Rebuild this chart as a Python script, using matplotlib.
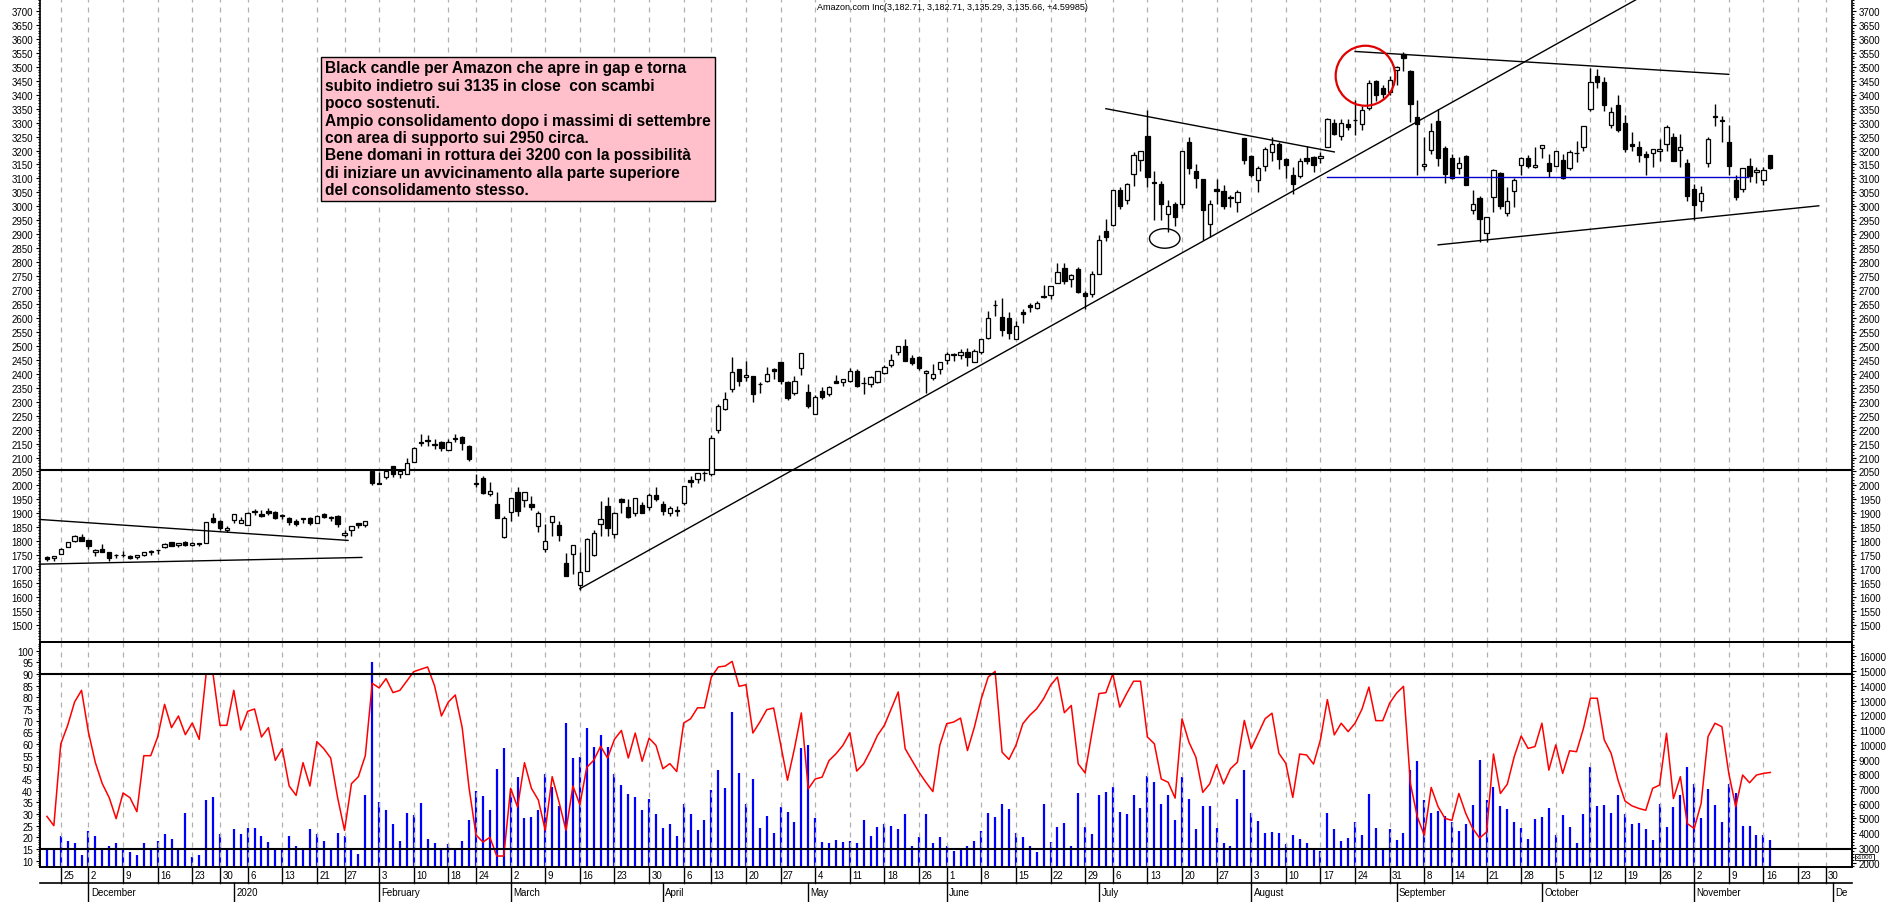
import numpy as np
import pandas as pd
import matplotlib
matplotlib.use("Agg")
import matplotlib.pyplot as plt
from matplotlib.patches import Ellipse
from matplotlib import transforms

plt.rcParams["font.family"] = "Liberation Sans"

# ---------------- data ----------------
holidays = ["2019-11-28", "2019-12-25", "2020-01-01", "2020-01-20", "2020-02-17",
            "2020-04-10", "2020-05-25", "2020-07-03", "2020-09-07", "2020-11-26"]
all_days = pd.bdate_range("2019-11-21", "2020-12-04", freq="C", holidays=holidays)

opens = [1743,1739,1753,1780,1801,1817,
 1804,1760,1774,1763,1751,1750,1748,1742,1750,1765,1768,1778,1796,1786,1799,1788,1793,1794,1882,1874,1842,
 1875,1864,1860,1904,1898,1910,1905,1891,1885,1873,1883,1885,1865,1896,1885,1891,1821,1841,1865,1858,2051,
 2010,2029,2071,2041,2040,2085,2155,2163,2145,2155,2126,2168,2173,2142,2004,2026,1970,1935,1814,
 1906,1975,1947,1934,1855,1773,1870,1857,1721,1755,1642,1692,1750,1861,1926,1827,1951,1921,1902,1930,1922,1965,
 1933,1901,1912,1937,2018,2022,2045,2040,2200,2275,2347,2417,2389,2391,2363,2375,2418,2443,2372,2331,2420,
 2336,2257,2340,2329,2375,2370,2375,2411,2367,2362,2369,2404,2430,2477,2500,2455,2459,2404,2384,2416,
 2448,2467,2468,2478,2444,2477,2530,2646,2604,2601,2526,2620,2647,2635,2678,2684,2727,2780,2739,2775,2690,2685,
 2758,2912,2934,3058,3023,3115,3166,3252,3089,3080,2972,3010,3010,3232,3125,3098,2935,3063,3055,3030,3015,3244,
 3181,3095,3144,3195,3225,3170,3114,3108,3172,3178,3173,3213,3300,3252,3295,3310,3294,3351,3450,3423,3409,
 3490,3547,3485,3319,3144,3202,3307,3208,3172,3137,3180,2986,3031,2906,3033,3120,2977,3055,3148,3175,3141,
 3208,3154,3145,3167,3136,3190,3211,3349,3468,3447,3292,3363,3299,3222,3212,3189,3191,3198,3224,3249,3202,3157,
 3061,3018,3157,3319,3305,3232,3095,3062,3144,3122,3094,3183]

highs = [1746,1746,1777,1797,1824,1825,
 1806,1772,1789,1763,1754,1766,1750,1750,1763,1768,1770,1792,1799,1793,1802,1796,1795,1870,1901,1875,1853,
 1899,1886,1904,1914,1911,1918,1907,1898,1887,1878,1885,1886,1895,1903,1890,1895,1841,1850,1867,1872,2056,
 2049,2059,2071,2056,2098,2136,2185,2180,2165,2160,2167,2186,2176,2145,2042,2034,2014,1975,1889,
 1954,1996,1976,1961,1910,1862,1892,1871,1757,1786,1760,1811,1841,1945,1958,1906,1955,1950,1956,1940,1974,1993,
 1944,1927,1926,1998,2035,2044,2053,2181,2292,2334,2462,2419,2445,2392,2369,2425,2420,2444,2374,2391,2475,
 2363,2324,2351,2357,2396,2383,2420,2419,2388,2392,2410,2433,2470,2500,2525,2469,2463,2413,2436,2443,
 2477,2473,2488,2492,2489,2526,2626,2664,2671,2622,2590,2631,2655,2660,2718,2715,2798,2796,2756,2782,2696,2769,
 2896,2955,3060,3070,3083,3194,3200,3344,3127,3092,3024,3016,3200,3247,3150,3099,3023,3099,3078,3039,3058,3246,
 3185,3144,3214,3247,3231,3173,3140,3175,3217,3179,3194,3315,3312,3312,3314,3380,3358,3451,3453,3434,3468,
 3502,3553,3488,3381,3250,3300,3350,3217,3187,3176,3185,3058,3038,2962,3133,3124,3070,3101,3176,3185,3213,
 3221,3188,3199,3189,3201,3234,3288,3497,3493,3465,3355,3400,3329,3266,3235,3199,3205,3243,3291,3264,3258,3168,
 3079,3074,3247,3366,3322,3290,3114,3139,3175,3141,3142,3183]

lows = [1731,1731,1753,1778,1798,1800,
 1772,1748,1760,1731,1740,1743,1735,1738,1746,1750,1756,1777,1783,1779,1782,1784,1784,1793,1866,1840,1833,
 1864,1864,1860,1893,1886,1895,1880,1880,1858,1856,1867,1857,1865,1884,1873,1850,1815,1818,1848,1851,2002,
 2004,2024,2032,2025,2040,2084,2140,2142,2130,2125,2126,2157,2127,2088,1995,1970,1961,1882,1812,
 1871,1891,1923,1911,1834,1762,1819,1800,1675,1681,1626,1692,1746,1820,1820,1812,1901,1885,1889,1900,1913,1944,
 1893,1891,1892,1931,1996,2009,2017,2035,2187,2271,2335,2358,2375,2300,2333,2370,2380,2364,2307,2325,2396,
 2276,2256,2308,2320,2367,2356,2372,2354,2328,2353,2366,2398,2426,2467,2446,2430,2415,2330,2378,2399,
 2434,2446,2454,2428,2442,2472,2525,2608,2536,2524,2523,2583,2621,2631,2671,2669,2727,2721,2712,2688,2631,2675,
 2756,2876,2931,2989,3009,3072,3128,3068,2951,2950,2909,2931,2995,3115,3065,2881,2889,3007,2992,2996,2980,3151,
 3104,3051,3127,3162,3133,3102,3045,3101,3152,3124,3155,3213,3256,3238,3275,3257,3275,3345,3378,3387,3398,
 3436,3486,3303,3112,3131,3186,3145,3085,3097,3117,3076,2972,2871,2871,2981,2992,2965,2999,3114,3136,3136,
 3172,3106,3145,3097,3131,3160,3199,3343,3425,3340,3282,3268,3193,3198,3160,3114,3140,3164,3199,3162,3140,3019,
 2951,2984,3141,3288,3231,3112,3024,3050,3086,3085,3077,3135]

closes = [1735,1746,1774,1797,1818,1801,
 1782,1770,1761,1740,1752,1750,1739,1749,1760,1761,1769,1791,1784,1792,1787,1793,1789,1869,1870,1847,1848,
 1898,1875,1903,1907,1892,1901,1883,1891,1869,1862,1878,1865,1892,1888,1885,1862,1828,1853,1858,1871,2009,
 2004,2050,2040,2050,2079,2134,2151,2160,2150,2135,2156,2170,2153,2096,2009,1973,1980,1884,1884,
 1954,1909,1976,1924,1901,1801,1892,1821,1677,1785,1689,1808,1830,1881,1846,1903,1940,1886,1956,1900,1964,1950,
 1908,1919,1907,1998,2012,2043,2043,2169,2283,2308,2408,2375,2394,2328,2364,2400,2410,2376,2314,2373,2474,
 2286,2316,2318,2351,2368,2380,2409,2357,2368,2389,2410,2426,2449,2498,2447,2437,2422,2410,2401,2442,
 2471,2472,2478,2461,2483,2524,2601,2647,2558,2545,2573,2615,2641,2654,2675,2714,2764,2734,2755,2693,2680,2759,
 2879,2890,3057,3000,3081,3183,3200,3104,3084,3009,3000,2962,3197,3138,3100,2987,3009,3055,3000,3034,3052,3165,
 3112,3139,3205,3225,3168,3148,3081,3162,3161,3148,3182,3313,3261,3297,3285,3308,3347,3442,3400,3402,3451,
 3499,3531,3368,3295,3150,3269,3175,3116,3103,3156,3078,3009,2955,2961,3129,3000,3020,3095,3174,3145,3149,
 3221,3125,3199,3100,3196,3191,3287,3444,3444,3364,3339,3273,3207,3217,3185,3176,3204,3207,3286,3163,3211,3036,
 3005,3048,3241,3322,3311,3144,3035,3137,3110,3129,3131,3136]

# volume in thousands of shares
volumes = [2920,2840,3800,3480,3320,2500,4120,3800,3000,3160,3320,2840,2760,2500,3320,3000,3480,3960,3640,3000,
 5400,2360,2500,6280,6440,3960,2840,4280,3960,4360,4360,3800,3400,3000,3000,3800,3160,3000,4280,3960,
 3480,2840,4040,3800,3000,2600,6600,15640,6120,5560,4600,3480,5400,5240,6040,3640,3320,2840,3240,2840,
 3480,4920,6840,6520,5560,8360,9800,7000,7800,5000,5080,5560,8040,7160,5880,11480,9080,9160,11160,9880,
 10680,9880,8040,
 7280,6660,6440,5560,6300,5290,4330,4600,3800,5980,5290,4190,4880,6940,8270,7080,12210,8080,5980,7650,
 4370,5200,4030,5790,5470,4790,9760,9960,5060,3410,3340,3530,3410,3500,3320,4920,3800,4440,4600,4490,
 4260,5290,3110,3760,5290,3320,3760,3110,2770,2860,3110,3460,4150,5340,5130,5980,5610,4030,3730,3110,
 2730,5980,3410,4440,4720,3140,6710,4440,3960,6570,6780,7120,5470,5290,6570,5700,7880,7490,5980,6570,
 4920,7810,6300,4310,5820,5820,4370,3340,3110,6300,8270,5340,4830,
 4010,4100,4010,3250,3870,3600,3320,2910,2790,5390,4280,3480,3690,4790,3870,6650,4380,3000,4280,3550,
 4010,8300,8920,6230,5390,5480,5200,4740,4170,4650,5940,8990,6230,7110,5820,5660,4740,4380,3600,4970,
 5090,5730,3870,5270,4420,3320,5320,8480,5820,5940,5360,6580,5320,4630,4700,4280,3550,6000,4450,5750,
 6620,8500,7330,5020,6990,5890,4790,7330,6720,4510,4510,3890,3890,3550]

oscillator = [29,25,60,68,78,83,65,52,43,37,28,39,37,31,55,55,63,77,67,72,64,69,62,90,90,68,68,83,66,74,
 75,63,67,53,58,42,38,52,42,61,58,54,37,23,43,46,55,86,84,88,82,83,87,91,92,93,85,72,78,81,
 67,41,21,18,20,12,12,41,33,52,41,36,23,46,35,23,42,34,50,53,59,54,62,
 65.8,54,64.7,52.6,62.5,59.4,49.4,51.6,48.2,69,70.8,75.5,75.5,88.7,93,93.4,95.4,84.7,85.4,64.7,
 69.4,74.7,75.4,60,44.5,58,73.3,40.8,45,45.8,52.9,55.8,59.4,64.8,48.4,51.5,57.2,63.7,68,75.1,
 82.3,58,52.9,47.9,43.6,39.6,59.4,68.7,69.4,71.1,57.2,67.2,79.4,88.7,91.1,56.5,53.4,59.4,68.7,72.3,
 75.1,79.4,85.1,88.7,73.4,76.5,51.5,47.6,65.1,81.6,82,90.1,75.8,81.6,86.9,86.9,63,60.1,45,43.6,
 36.8,70.8,60.8,54.4,39.3,42.9,51.1,42.9,49.4,52.2,70.1,58,64.4,
 70.8,73.2,56,51.7,37.1,55.7,55.3,51.4,61.8,79,63.9,68.9,65.3,68.9,74.9,84.4,70,70,77.5,81.8,
 84.7,43,28.8,20.9,41.4,33.1,28.1,27.3,38.8,30.2,23.8,19.7,22.3,55.7,38.8,42.8,54.6,63.4,58.1,58.9,
 68.9,48.8,59.6,47.4,57.1,56.7,66.7,79.6,79.6,61.8,56,44.5,35.6,33.5,32.4,31.6,41,42.4,64.6,36.6,
 46,25.9,23.8,34.5,63.2,68.9,67.4,47.4,33.1,46.7,43.4,46.7,47.4,47.8]

title_text = "Amazon.com Inc(3,182.71, 3,182.71, 3,135.29, 3,135.66, +4.59985)"
note_text = ("Black candle per Amazon che apre in gap e torna\n"
             "subito indietro sui 3135 in close  con scambi\n"
             "poco sostenuti.\n"
             "Ampio consolidamento dopo i massimi di settembre\n"
             "con area di supporto sui 2950 circa.\n"
             "Bene domani in rottura dei 3200 con la possibilità\n"
             "di iniziare un avvicinamento alla parte superiore\n"
             "del consolidamento stesso.")
month_names = {1: "2020", 2: "February", 3: "March", 4: "April", 5: "May", 6: "June", 7: "July",
               8: "August", 9: "September", 10: "October", 11: "November", 12: "December"}

# ---------------- figure ----------------
n = len(closes)
idx = np.arange(n)
W, H = 1890, 903
fig = plt.figure(figsize=(W / 100, H / 100), dpi=100)
fig.patch.set_facecolor("white")
L, R = 40, 1852
ax = fig.add_axes([L / W, (H - 643) / H, (R - L) / W, 643 / H])
ax2 = fig.add_axes([L / W, (H - 868) / H, (R - L) / W, 225 / H])
ax2r = ax2.twinx()
XMIN, XMAX = -1.0, 260.8
for a in (ax, ax2, ax2r):
    a.set_xlim(XMIN, XMAX)

days = all_days
week_first = [i for i in range(1, len(days)) if days[i].isocalendar()[1] != days[i - 1].isocalendar()[1]]
week_first = [i for i in week_first if days[i] <= pd.Timestamp("2020-12-01")]
for a in (ax, ax2):
    for i in week_first:
        a.axvline(i, color="#b0b0b0", ls=(0, (4, 4)), lw=0.9, zorder=0)

# candles
o = np.array(opens, float); h = np.array(highs, float); lo = np.array(lows, float); c = np.array(closes, float)
ax.vlines(idx, lo, h, color="black", lw=1, zorder=2)
up = c >= o
body = np.maximum(np.abs(c - o), 1.5)
ax.bar(idx[up], body[up], bottom=np.minimum(o, c)[up], width=0.62, color="white", edgecolor="black", lw=0.9, zorder=3)
ax.bar(idx[~up], body[~up], bottom=np.minimum(o, c)[~up], width=0.62, color="black", edgecolor="black", lw=0.9, zorder=3)

ax.set_ylim(1439, 3743)
ax.axhline(2055, color="black", lw=1.5, zorder=1)

def seg(a_, x0, y0, x1, y1, color="black", lw=1.0):
    a_.plot([x0, x1], [y0, y1], color=color, lw=lw, zorder=4)

seg(ax, -1, 1878, 43.5, 1803)
seg(ax, -1, 1718, 45.5, 1742)
seg(ax, 77, 1630, 231, 3760)
seg(ax, 153, 3350, 186, 3195)
seg(ax, 189, 3555, 243, 3473)
seg(ax, 201, 2862, 256, 3002)
seg(ax, 185, 3105, 245.8, 3105, color="#0000cc")
ax.add_patch(Ellipse((161.5, 2885), 4.4, 70, fill=False, ec="black", lw=1, zorder=5))
ax.add_patch(Ellipse((190.5, 3468), 8.6, 215, fill=False, ec="#e00000", lw=1.6, zorder=5))

ax.text(0.172, 0.932, note_text, transform=fig.transFigure, fontsize=11.2, fontweight="bold",
        va="top", ha="left", linespacing=1.2, color="black",
        bbox=dict(boxstyle="square,pad=0.25", fc="#ffc0cb", ec="black", lw=1))
fig.text(952 / W, 1 - 7 / H, title_text, fontsize=6.5, ha="center", va="center")

# lower panel
ax2r.vlines(idx[:len(volumes)], 0, volumes, color="#0000ff", lw=1.6)
ax2r.set_ylim(1710, 16970)
ax2.plot(np.arange(len(oscillator)), oscillator, color="#ff0000", lw=1.1, zorder=5)
ax2.set_ylim(7.3, 103.7)
ax2.axhline(90, color="black", lw=1.5, zorder=6)
ax2.axhline(15, color="black", lw=1.5, zorder=6)
ax2.set_zorder(ax2r.get_zorder() + 1)
ax2.patch.set_visible(False)

tick_kw = dict(labelsize=7, length=3, width=0.8, pad=2)
ax.set_yticks(np.arange(1500, 3701, 50))
ax.set_yticks(np.arange(1450, 3741, 10), minor=True)
ax.tick_params(axis="y", which="both", left=True, right=True, labelleft=True, labelright=True, **tick_kw)
ax.tick_params(axis="y", which="minor", length=1.5)
ax.set_xticks([])
ax2.set_yticks(np.arange(10, 101, 5))
ax2.set_yticks(np.arange(8, 104, 1), minor=True)
ax2.tick_params(axis="y", which="both", **tick_kw)
ax2.tick_params(axis="y", which="minor", length=1.5)
ax2.set_xticks([])
ax2r.set_yticks(np.arange(2000, 16001, 1000))
ax2r.set_yticks(np.arange(1800, 16901, 200), minor=True)
ax2r.yaxis.set_major_formatter(matplotlib.ticker.FuncFormatter(lambda v, p: f"{int(v)}"))
ax2r.tick_params(axis="y", which="both", **tick_kw)
ax2r.tick_params(axis="y", which="minor", length=1.5)
for a in (ax, ax2, ax2r):
    for s in a.spines.values():
        s.set_linewidth(1.2)
fig.text((R + 4) / W, (H - 858) / H, "x1000", fontsize=4.5, ha="left", va="center",
         bbox=dict(boxstyle="square,pad=0.15", fc="white", ec="black", lw=0.6))

# date axis rows
trans = transforms.blended_transform_factory(ax2.transData, fig.transFigure)
y_top, y_mid, y_bot = (H - 868) / H, (H - 884) / H, 0.0
fig.add_artist(plt.Line2D([L / W, R / W], [y_mid, y_mid], transform=fig.transFigure, color="black", lw=1.2))
for i in week_first:
    if i > XMAX:
        continue
    fig.add_artist(plt.Line2D([i, i], [y_top, y_mid], transform=trans, color="black", lw=1.0))
    fig.text(i + 0.35, (y_top + y_mid) / 2, str(days[i].day), transform=trans, fontsize=7, ha="left", va="center")
month_first = [i for i in range(1, len(days)) if days[i].month != days[i - 1].month and i <= XMAX]
for i in month_first:
    name = month_names[days[i].month]
    if i > XMAX - 6:
        name = name[:2]
    fig.add_artist(plt.Line2D([i, i], [y_mid, y_bot], transform=trans, color="black", lw=1.0))
    fig.text(i + 0.35, (y_mid + y_bot) / 2, name, transform=trans, fontsize=7, ha="left", va="center")

fig.savefig("out.png", dpi=100)
